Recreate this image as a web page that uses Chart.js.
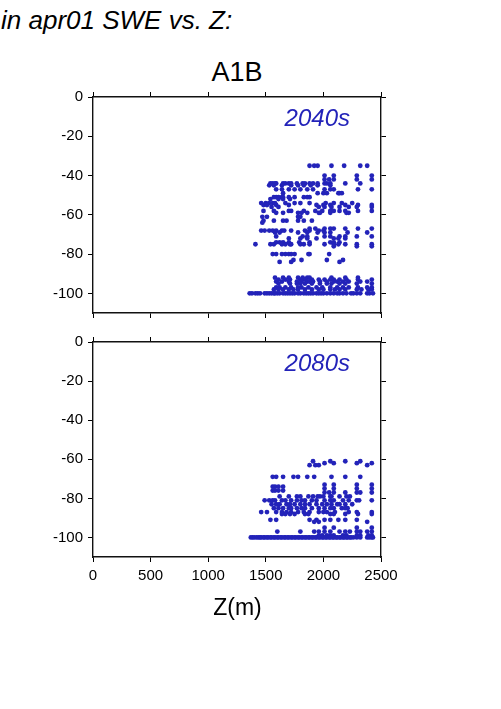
<!DOCTYPE html>
<html>
<head>
<meta charset="utf-8">
<script src="https://cdn.jsdelivr.net/npm/chart.js@4.4.1/dist/chart.umd.min.js"></script>
<style>
  html, body { margin: 0; padding: 0; background: #fff; }
  #wrap { position: relative; width: 501px; height: 709px; overflow: hidden; font-family: "Liberation Sans", Arial, sans-serif; }
  canvas { position: absolute; left: 0; }
  .txt { position: absolute; white-space: nowrap; color: #000; line-height: 1; }
</style>
</head>
<body>
<div id="wrap">
  <div class="txt" id="title" style="left:1px; top:7px; font-size:26px; font-style:italic;">in apr01 SWE vs. Z:</div>
  <div class="txt" style="left:0; width:474px; top:59px; font-size:27px; text-align:center;">A1B</div>
  <canvas id="c1" width="501" height="330" style="top:0"></canvas>
  <canvas id="c2" width="501" height="300" style="top:320px"></canvas>
  <div class="txt" style="left:0; width:475px; top:596px; font-size:23px; text-align:center;">Z(m)</div>
</div>
<script>
// SWE change (%) levels and the elevations (m) of the points on each level
const sweLevels2040 = [-35, -40, -42, -44, -45, -47, -49, -51, -52, -54, -55, -56, -58, -59, -61, -63, -64,
    -67, -68, -69, -71, -72, -74, -75, -76, -80, -83, -84, -92, -93, -94, -95, -97, -98, -100];
const zRows2040 = [
    [1880, 1920, 1950, 2070, 2180, 2320, 2380],
    [2010, 2090, 2290, 2420],
    [2010, 2050, 2090, 2290, 2420],
    [1540, 1560, 1580, 1590, 1650, 1670, 1700, 1720, 1770, 1820, 1840, 1880, 1910, 1950, 2010, 2030, 2060, 2190, 2320],
    [1530, 1570, 1640, 1720, 1780, 1830, 1890, 1950, 2060],
    [1590, 1640, 1700, 1750, 1800, 1860, 1910, 2010, 2060, 2090, 2300, 2420],
    [1650, 1950, 2000, 2030, 2130, 2140, 2160],
    [1570, 1590, 1610, 1640, 1650, 1700, 1750, 1830, 1860, 1880],
    [1540, 1610, 1650, 1710],
    [1460, 1500, 1530, 1560, 1580, 1670, 1750, 1800, 1880, 2020, 2090, 2160, 2250],
    [1480, 1510, 1590, 1700, 1940, 2000, 2060, 2190, 2300, 2420],
    [1550, 1610, 1960, 2010, 2070, 2140, 2220, 2290, 2420],
    [1480, 1570, 1700, 1720, 1830, 1930, 1990, 2060, 2090, 2140, 2190, 2300, 2420],
    [1590, 1650, 1780, 1810, 1860, 1960, 1970, 2060, 2200, 2220],
    [1470, 1510, 1780, 1800],
    [1480, 1570, 1650, 1680, 1780, 1830, 1900],
    [1470],
    [1880, 1930, 2010, 2060, 2090, 2190, 2300, 2420],
    [1460, 1490, 1530, 1560, 1590, 1640, 1660, 1720, 1840, 1880, 1960, 2000],
    [1580, 1620, 1780, 1860, 1950, 2010, 2060, 2210, 2380],
    [1590, 1820, 1860, 2010, 2060, 2140, 2190, 2290, 2420],
    [1700, 1800, 1860, 1940, 2090, 2130, 2190],
    [1590, 1620, 1650, 1700, 1790, 1880, 2060, 2090, 2140],
    [1410, 1540, 1570, 1640, 1670, 1710, 1720, 1800, 1830, 1880, 2010, 2090, 2130, 2190, 2290, 2420],
    [2090, 2290, 2420],
    [1560, 1590, 1640, 1670, 1700, 1720, 1750, 1870, 1880, 2050],
    [1740, 1810, 2030, 2170],
    [1620, 1720, 2140],
    [1580, 1650, 1700, 1780, 1820, 1860, 1880, 2070, 2190, 2300],
    [1610, 1670, 1710, 1800, 1840, 1900, 1960, 2010, 2060, 2090, 2140, 2200, 2300, 2420],
    [1590, 1640, 1700, 1770, 1810, 1860, 1880, 1910, 1970, 2030, 2090, 2120, 2170, 2220, 2320, 2380],
    [1610, 1710, 1770, 1800, 1840, 1900, 1970, 2030, 2070, 2140, 2190, 2290, 2420],
    [1590, 1620, 1670, 1720, 1780, 1810, 1870, 1940, 1990, 2060, 2120, 2170, 2220, 2300, 2380, 2420],
    [1570, 1610, 1650, 1700, 1740, 1780, 1840, 1900, 1960, 2000, 2060, 2100, 2140, 2190, 2290, 2330, 2390, 2420],
    [1360, 1380, 1410, 1430, 1450, 1490, 1510, 1530, 1550, 1570, 1580, 1600, 1620, 1650, 1670, 1690, 1710, 1730,
     1750, 1780, 1800, 1830, 1850, 1870, 1890, 1910, 1940, 1960, 1980, 2000, 2030, 2060, 2090, 2120, 2140, 2170,
     2200, 2240, 2260, 2290, 2320, 2380, 2400, 2430]
];

const sweLevels2080 = [-61, -62, -63, -69, -73, -74, -75, -76, -77, -79, -81, -83, -85, -87, -88, -91, -92, -95, -97, -99, -100];
const zRows2080 = [
    [1910, 2060, 2190, 2320],
    [2010, 2090, 2290, 2420],
    [1880, 1930, 1960, 2380],
    [1560, 1590, 1650, 1740, 1780, 1860, 1920, 2070, 2190, 2320],
    [2010, 2090, 2290, 2420],
    [1560, 1580, 1610, 1650],
    [2010, 2090, 2290, 2420],
    [1560, 1580, 1610, 1650],
    [2010, 2050, 2090, 2190, 2290, 2320, 2420],
    [1620, 1700, 1770, 1800, 1870, 1910, 1950, 1970, 2000, 2060, 2070, 2140, 2200, 2230],
    [1490, 1530, 1560, 1580, 1640, 1670, 1720, 1770, 1810, 1840, 1900, 1940, 2010, 2060, 2090, 2170, 2220, 2290, 2310, 2420],
    [1550, 1590, 1620, 1680, 1710, 1750, 1800, 1840, 1880, 1940, 1990, 2030, 2070, 2120, 2140, 2190, 2250],
    [1570, 1610, 1650, 1700, 1720, 1770, 1810, 1840, 1900, 1960, 2010, 2060, 2090, 2160, 2190, 2210],
    [1460, 1510, 1590, 1640, 1680, 1720, 1780, 1830, 1880, 1960, 2000, 2030, 2100, 2220, 2290, 2420],
    [1640, 1670, 1710, 1750, 1840, 1870, 2060, 2090, 2190, 2300, 2420],
    [1540, 1590, 1880, 1940, 2010, 2060, 2130, 2190, 2290],
    [1920, 1960, 2380],
    [2010, 2090, 2290, 2420],
    [1600, 1800, 1920, 1960, 2010, 2060, 2140, 2190, 2230, 2290, 2320, 2380, 2420],
    [1960, 1990, 2030, 2060, 2090, 2170, 2200, 2290, 2320, 2390, 2420],
    [1370, 1385, 1400, 1420, 1435, 1450, 1460, 1480, 1490, 1510, 1520, 1540, 1550, 1570, 1580, 1600, 1610, 1630,
     1640, 1660, 1670, 1690, 1700, 1720, 1730, 1750, 1760, 1780, 1790, 1810, 1820, 1840, 1850, 1870, 1880, 1900,
     1910, 1930, 1940, 1960, 1970, 1990, 2000, 2020, 2030, 2050, 2060, 2080, 2090, 2110, 2120, 2140, 2150, 2170,
     2180, 2200, 2210, 2230, 2240, 2260, 2290, 2320, 2380, 2400, 2420, 2430]
];

const xTicks = [0, 500, 1000, 1500, 2000, 2500];
const yTicks = [0, -20, -40, -60, -80, -100];

const FONT = '"Liberation Sans", Arial, sans-serif';
const BLUE = '#2323b9';

function toPoints(levels, rows) {
    const pts = [];
    levels.forEach((y, i) => {
        rows[i].forEach(x => pts.push({ x: x, y: y }));
    });
    return pts;
}

const periodLabel = {
    id: 'periodLabel',
    afterDatasetsDraw(chart, args, opts) {
        const ctx = chart.ctx;
        const a = chart.chartArea;
        ctx.save();
        ctx.font = 'italic 24px ' + FONT;
        ctx.fillStyle = BLUE;
        ctx.textAlign = 'right';
        ctx.textBaseline = 'middle';
        ctx.fillText(opts.text, a.left + 257, a.top + 22);
        ctx.restore();
    }
};

function makeChart(id, levels, rows, label, showX, pad, xHeight) {
    const grid = { drawOnChartArea: false, drawTicks: true, tickLength: 5, color: '#000', lineWidth: 1 };
    const border = { display: true, color: '#111', width: 1.4 };
    return new Chart(document.getElementById(id), {
        type: 'scatter',
        data: {
            datasets: [{
                data: toPoints(levels, rows),
                backgroundColor: BLUE,
                borderWidth: 0,
                pointRadius: 2.4,
                pointHoverRadius: 2.4
            }]
        },
        options: {
            responsive: false,
            animation: false,
            events: [],
            layout: { padding: pad },
            plugins: { legend: { display: false }, tooltip: { enabled: false }, periodLabel: { text: label } },
            scales: {
                x: {
                    type: 'linear', position: 'bottom', min: 0, max: 2500,
                    afterBuildTicks: s => { s.ticks = xTicks.map(v => ({ value: v })); },
                    ticks: { display: showX, color: '#000', font: { size: 15, family: FONT }, padding: 5, maxRotation: 0,
                        callback: v => String(v) },
                    grid: grid, border: border,
                    afterFit: s => { s.height = xHeight; }
                },
                x2: {
                    type: 'linear', position: 'top', min: 0, max: 2500,
                    afterBuildTicks: s => { s.ticks = xTicks.map(v => ({ value: v })); },
                    ticks: { display: false },
                    grid: grid, border: border,
                    afterFit: s => { s.height = 5; }
                },
                y: {
                    type: 'linear', position: 'left', min: -110, max: 0,
                    afterBuildTicks: s => { s.ticks = yTicks.map(v => ({ value: v })); },
                    ticks: { color: '#000', font: { size: 15, family: FONT }, padding: 5, callback: v => String(v) },
                    grid: grid, border: border,
                    afterFit: s => { s.width = 93; }
                },
                y2: {
                    type: 'linear', position: 'right', min: -110, max: 0,
                    afterBuildTicks: s => { s.ticks = yTicks.map(v => ({ value: v })); },
                    ticks: { display: false },
                    grid: grid, border: border,
                    afterFit: s => { s.width = 6; }
                }
            }
        },
        plugins: [periodLabel]
    });
}

makeChart('c1', sweLevels2040, zRows2040, '2040s', false, { left: 0, top: 92, right: 114, bottom: 0 }, 17);
makeChart('c2', sweLevels2080, zRows2080, '2080s', true, { left: 0, top: 17, right: 114, bottom: 0 }, 63);
</script>
</body>
</html>
